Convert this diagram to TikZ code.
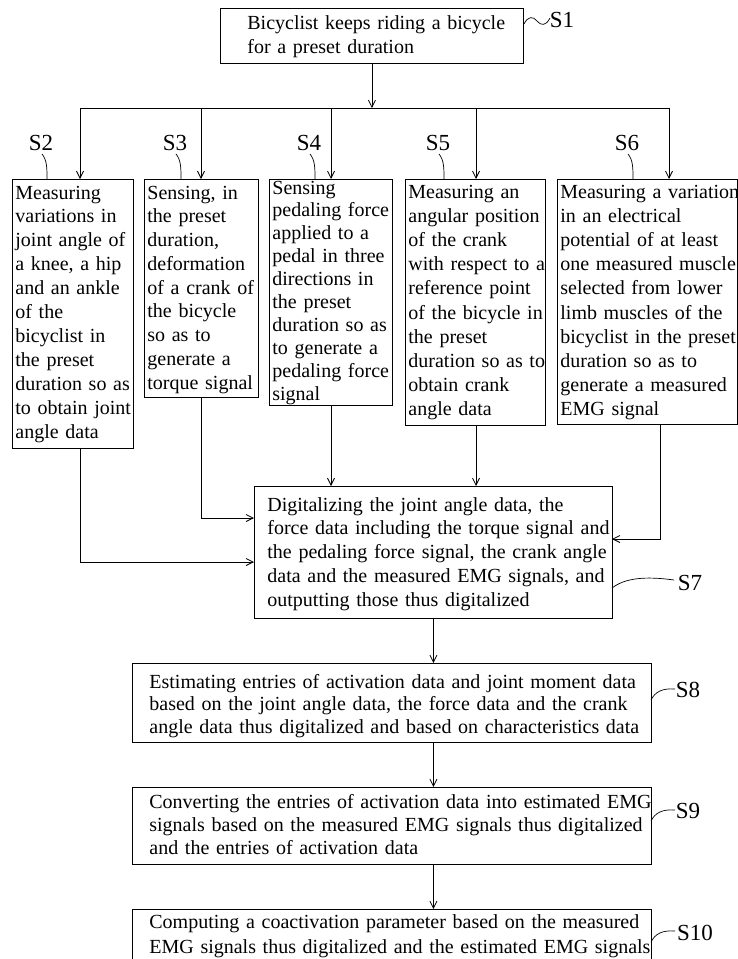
\documentclass[tikz,border=0pt]{standalone}
\usepackage{fontspec}
\setmainfont{Liberation Serif}
\usetikzlibrary{arrows.meta}
\begin{document}
\begin{tikzpicture}[x=1pt,y=-1pt,line width=0.8pt,
  box/.style={draw,rectangle,inner sep=0pt,anchor=north west},
  txt/.style={anchor=base west,align=left,inner sep=0pt,text width=620pt},
  lab/.style={font=\fontsize{23}{23}\selectfont,inner sep=0pt},
  arr/.style={-{Straight Barb[length=7pt,width=7pt]}},
  lead/.style={line width=0.7pt}]
\clip (0,0) rectangle (738,959);
\fill[white] (0,0) rectangle (738,959);
% boxes
\node[box,minimum width=303pt,minimum height=55pt] (b1) at (220,8) {};
\node[box,minimum width=121pt,minimum height=269pt] (b2) at (12,179) {};
\node[box,minimum width=114pt,minimum height=218pt] (b3) at (144,179) {};
\node[box,minimum width=123pt,minimum height=226pt] (b4) at (269,179) {};
\node[box,minimum width=140pt,minimum height=246pt] (b5) at (405,179) {};
\node[box,minimum width=179.5pt,minimum height=245pt] (b6) at (557,179) {};
\node[box,minimum width=358pt,minimum height=132pt] (b7) at (254,486) {};
\node[box,minimum width=519pt,minimum height=79pt] (b8) at (132,663) {};
\node[box,minimum width=519pt,minimum height=77pt] (b9) at (132,787) {};
\node[box,minimum width=519pt,minimum height=70pt] (b10) at (132,909) {};
% texts
\node[txt,font=\fontsize{20}{24}\selectfont] (t1) at (247,29) {Bicyclist keeps riding a bicycle\\for a preset duration};
\node[txt,font=\fontsize{20}{23.9}\selectfont] (t2) at (15,199) {Measuring\\variations in\\joint angle of\\a knee, a hip\\and an ankle\\of the\\bicyclist in\\the preset\\duration so as\\to obtain joint\\angle data};
\node[txt,font=\fontsize{20}{23.75}\selectfont] (t3) at (147,199) {Sensing, in\\the preset\\duration,\\deformation\\of a crank of\\the bicycle\\so as to\\generate a\\torque signal};
\node[txt,font=\fontsize{20}{22.9}\selectfont] (t4) at (272,194) {Sensing\\pedaling force\\applied to a\\pedal in three\\directions in\\the preset\\duration so as\\to generate a\\pedaling force\\signal};
\node[txt,font=\fontsize{20}{24.2}\selectfont] (t5) at (408,198) {Measuring an\\angular position\\of the crank\\with respect to a\\reference point\\of the bicycle in\\the preset\\duration so as to\\obtain crank\\angle data};
\node[txt,font=\fontsize{20}{24.2}\selectfont] (t6) at (560,198) {Measuring a variation\\in an electrical\\potential of at least\\one measured muscle\\selected from lower\\limb muscles of the\\bicyclist in the preset\\duration so as to\\generate a measured\\EMG signal};
\node[txt,font=\fontsize{20}{23.8}\selectfont] (t7) at (267,511) {Digitalizing the joint angle data, the\\force data including the torque signal and\\the pedaling force signal, the crank angle\\data and the measured EMG signals, and\\outputting those thus digitalized};
\node[txt,font=\fontsize{20}{22.6}\selectfont] (t8) at (149,688) {Estimating entries of activation data and joint moment data\\based on the joint angle data, the force data and the crank\\angle data thus digitalized and based on characteristics data};
\node[txt,font=\fontsize{20}{23}\selectfont] (t9) at (149,808) {Converting the entries of activation data into estimated EMG\\signals based on the measured EMG signals thus digitalized\\and the entries of activation data};
\node[txt,font=\fontsize{20}{25}\selectfont] (t10) at (149,928) {Computing a coactivation parameter based on the measured\\EMG signals thus digitalized and the estimated EMG signals};
% labels
\node[lab] (l1) at (562,20) {S1};
\node[lab] (l2) at (41,143) {S2};
\node[lab] (l3) at (175,143) {S3};
\node[lab] (l4) at (309,143) {S4};
\node[lab] (l5) at (438,143) {S5};
\node[lab] (l6) at (627,143) {S6};
\node[lab] (l7) at (690,583) {S7};
\node[lab] (l8) at (688,690) {S8};
\node[lab] (l9) at (688,811) {S9};
\node[lab] (l10) at (695,933) {S10};
% leaders
\draw[lead] (524,24) .. controls (528,16) and (533,16) .. (537,21) .. controls (541,26) and (546,26) .. (550,18);
\foreach \lx in {41,175,309,438,627}{
  \draw[lead] (\lx+1,154) .. controls (\lx+6,160) and (\lx+6,168) .. (\lx+6,179);
}
\draw[lead] (612,588) .. controls (625,578) and (645,576) .. (674,580);
\draw[lead] (651,700) .. controls (655,692) and (662,688) .. (675,689);
\draw[lead] (651,821) .. controls (655,813) and (662,809) .. (675,810);
\draw[lead] (651,942) .. controls (655,934) and (662,930) .. (675,931);
% bus
\coordinate (j2) at (80,108);
\coordinate (j3) at (201,108);
\coordinate (j4) at (331,108);
\coordinate (j5) at (476,108);
\coordinate (j6) at (669,108);
\coordinate (m6) at (660,108);
\coordinate (k2) at (254,562);
\coordinate (k3) at (254,518);
\coordinate (k6) at (612,539);
\draw[arr] (b1.south) -- (b1.south |- j4);
\draw (j2) -- (j6);
\draw[arr] (j2) -- (j2 |- b2.north);
\draw[arr] (j3) -- (j3 |- b3.north);
\draw[arr] (j4) -- (j4 |- b4.north);
\draw[arr] (j5) -- (j5 |- b5.north);
\draw[arr] (j6) -- (j6 |- b6.north);
% into S7
\draw[arr] (b2.south -| j2) -- (j2 |- k2) -- (k2);
\draw[arr] (b3.south -| j3) -- (j3 |- k3) -- (k3);
\draw[arr] (b4.south -| j4) -- (j4 |- b7.north);
\draw[arr] (b5.south -| j5) -- (j5 |- b7.north);
\draw[arr] (b6.south -| m6) -- (m6 |- k6) -- (k6);
% chain
\draw[arr] (b7.south) -- (b7.south |- b8.north);
\draw[arr] (b8.south -| b7.south) -- (b7.south |- b9.north);
\draw[arr] (b9.south -| b7.south) -- (b7.south |- b10.north);
\end{tikzpicture}
\end{document}
